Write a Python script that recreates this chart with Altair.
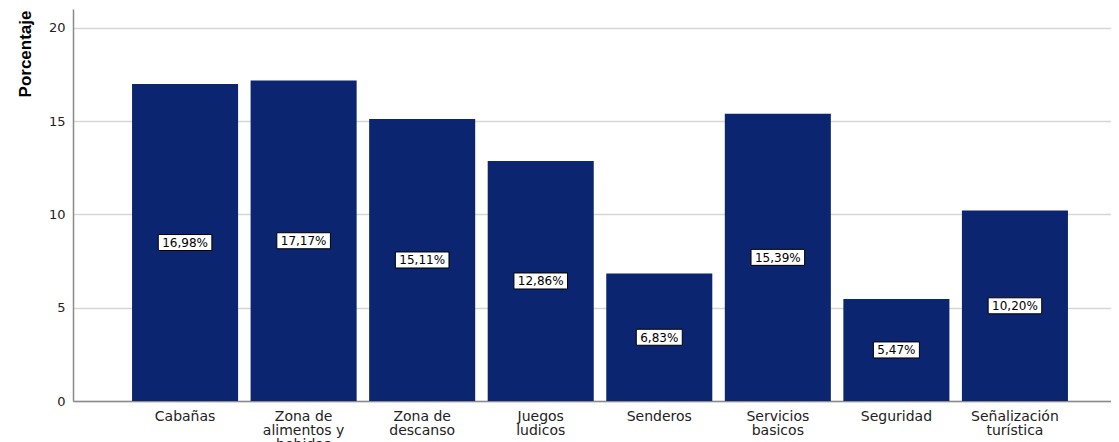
import altair as alt
import pandas as pd

categories = [
    "Cabañas",
    "Zona de\nalimentos y\nbebidas",
    "Zona de\ndescanso",
    "Juegos\nludicos",
    "Senderos",
    "Servicios\nbasicos",
    "Seguridad",
    "Señalización\nturística",
]
values = [16.98, 17.17, 15.11, 12.86, 6.83, 15.39, 5.47, 10.20]
y_ticks = [0, 5, 10, 15, 20]

df = pd.DataFrame({"categoria": categories, "porcentaje": values})

x_scale = alt.Scale(paddingInner=0.1055, paddingOuter=0.498, range=[0, 1054])

x_enc = alt.X(
    "categoria:N",
    sort=categories,
    scale=x_scale,
    axis=alt.Axis(
        title=None,
        labelAngle=0,
        labelExpr="split(datum.label, '\\n')",
        ticks=False,
        labelPadding=8,
        labelFont="DejaVu Sans",
        labelFontSize=14,
        labelColor="#222222",
        labelLineHeight=14,
        domainColor="#8a8a8a",
        domainWidth=1.5,
        grid=False,
    ),
)

y_scale = alt.Scale(domain=[0, 21], nice=False, zero=True)

bars = alt.Chart(df).mark_bar(color="#0b2570").encode(
    x=x_enc,
    y=alt.Y(
        "porcentaje:Q",
        scale=y_scale,
        axis=alt.Axis(
            values=y_ticks,
            title="Porcentaje",
            titleFont="Liberation Sans",
            titleFontSize=17,
            titleFontWeight="bold",
            titleColor="#000000",
            titleAngle=-90,
            titleX=-43,
            titleY=1,
            titleAlign="right",
            titleBaseline="alphabetic",
            ticks=False,
            labelPadding=8,
            labelFont="DejaVu Sans",
            labelFontSize=13,
            labelColor="#222222",
            domainColor="#8a8a8a",
            domainWidth=1.5,
            gridColor="#d6d6d6",
            gridWidth=1.5,
        ),
    ),
)

base = alt.Chart(df).transform_calculate(
    mid="datum.porcentaje / 2",
    txt="replace(format(datum.porcentaje, '.2f'), '.', ',') + '%'",
).transform_calculate(
    a="(length(datum.txt) * 7.6 + 8) / 60",
    b="8 / 30",
).transform_calculate(
    path="'M' + (-datum.a) + ',' + (-datum.b) + 'L' + datum.a + ',' + (-datum.b) + 'L' + datum.a + ',' + datum.b + 'L' + (-datum.a) + ',' + datum.b + 'Z'"
)

boxes = base.mark_point(
    filled=True, fill="white", stroke="black", strokeWidth=1, opacity=1, size=3600
).encode(
    x=alt.X("categoria:N", sort=categories, scale=x_scale),
    y=alt.Y("mid:Q", scale=y_scale),
    shape=alt.Shape("path:N", scale=None),
)

labels = base.mark_text(
    font="DejaVu Sans", fontSize=12, color="black", baseline="middle", align="center", dy=0.5
).encode(
    x=alt.X("categoria:N", sort=categories, scale=x_scale),
    y=alt.Y("mid:Q", scale=y_scale),
    text="txt:N",
)

chart = (
    alt.layer(bars, boxes, labels)
    .properties(
        width=1038,
        height=392,
        autosize=alt.AutoSizeParams(type="none"),
        padding={"left": 65, "top": 1, "right": 0, "bottom": 45},
        background="white",
    )
    .configure_view(stroke=None)
)

chart.save("out.html", embed_options={"renderer": "svg", "actions": False})
